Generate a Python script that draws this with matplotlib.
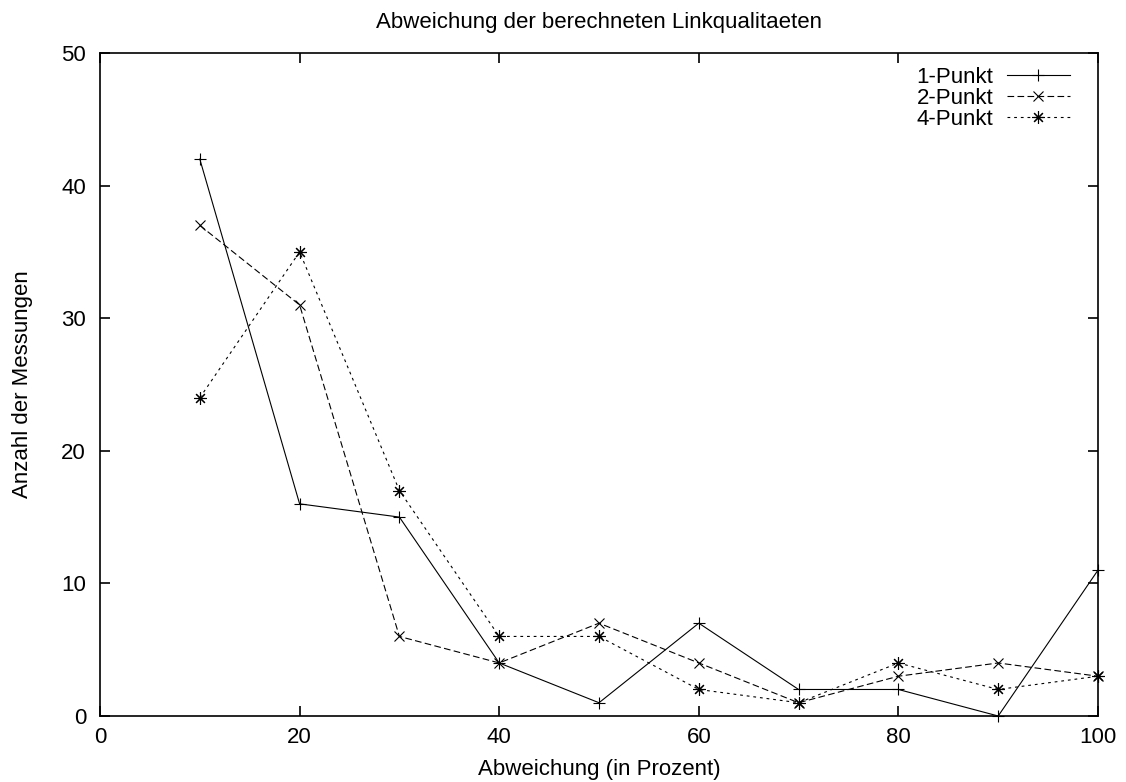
import matplotlib
matplotlib.use('Agg')
import matplotlib.pyplot as plt

plt.rcParams['font.family'] = ['Liberation Sans', 'DejaVu Sans']

abweichung = [10, 20, 30, 40, 50, 60, 70, 80, 90, 100]
punkt1 = [42, 16, 15, 4, 1, 7, 2, 2, 0, 11]
punkt2 = [37, 31, 6, 4, 7, 4, 1, 3, 4, 3]
punkt4 = [24, 35, 17, 6, 6, 2, 1, 4, 2, 3]

fig = plt.figure(figsize=(11.26, 7.82), dpi=100)
ax = fig.add_axes([100/1126, 1 - 716/782, 998/1126, 663/782])

lw = 0.8
ax.plot(abweichung, punkt1, color='black', lw=lw, marker='+', ms=9, mew=0.8,
        label='1-Punkt', clip_on=False)
ax.plot(abweichung, punkt2, color='black', lw=lw, ls=(0, (6, 3)), marker='x', ms=7, mew=0.8,
        label='2-Punkt', clip_on=False)
ax.plot(abweichung, punkt4, color='black', lw=lw, ls=(0, (2.5, 3.5)), marker=(8, 2, 0), ms=9, mew=0.8,
        label='4-Punkt', clip_on=False)

ax.set_xlim(0, 100)
ax.set_ylim(0, 50)
ax.set_xticks([0, 20, 40, 60, 80, 100])
ax.set_yticks([0, 10, 20, 30, 40, 50])
ax.tick_params(direction='in', length=7, width=1.2, top=True, right=True, labelsize=16)
ax.tick_params(axis='y', pad=10)
ax.tick_params(axis='x', pad=8)
for s in ax.spines.values():
    s.set_linewidth(1.2)

ax.set_title('Abweichung der berechneten Linkqualitaeten', fontsize=16, pad=18)
ax.set_xlabel('Abweichung (in Prozent)', fontsize=16, labelpad=8)
ax.set_ylabel('Anzahl der Messungen', fontsize=16, labelpad=20)

ax.legend(loc='upper right', bbox_to_anchor=(0.981, 0.992), frameon=False,
          markerfirst=False, fontsize=16, handlelength=2.85, labelspacing=0.0,
          borderaxespad=0.0, borderpad=0.4, handletextpad=0.6)

fig.savefig('out.png', dpi=100)
